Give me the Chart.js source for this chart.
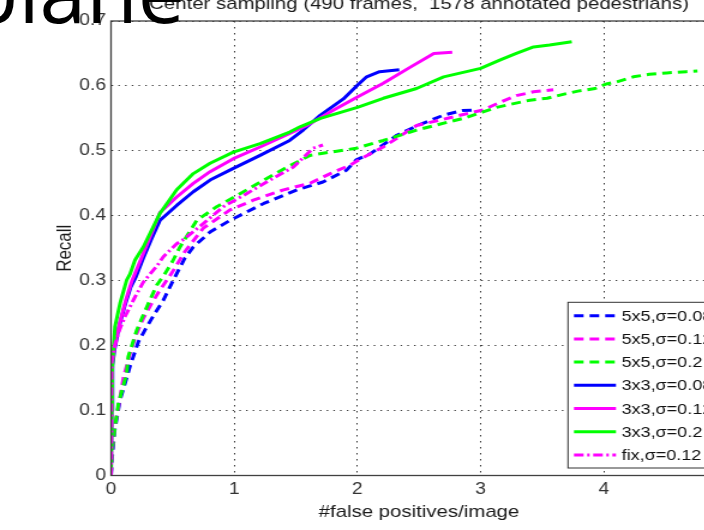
<!DOCTYPE html>
<html><head><meta charset="utf-8">
<script src="https://cdn.jsdelivr.net/npm/chart.js@4.4.1/dist/chart.umd.min.js"></script>
<style>
html,body{margin:0;padding:0;overflow:hidden;background:#fff;width:704px;height:530px}
#wrap{position:absolute;left:0;top:0;width:640px;height:530px;transform:scaleX(1.2);transform-origin:0 0}
#word{position:absolute;left:0;top:0}
</style>
</head><body>
<div id="wrap"><canvas id="c" width="640" height="530"></canvas></div>
<svg id="word" width="704" height="60"><text x="-33" y="23" font-family="Open Sans" font-size="84" fill="#000">plane</text></svg>
<script>
// ---- data ----
const titleText = 'Center sampling (490 frames,  1578 annotated pedestrians)';
const xAxisTitle = '#false positives/image';
const yAxisTitle = 'Recall';
const xTickLabels = ['0','1','2','3','4','5'];
const yTickLabels = ['0','0.1','0.2','0.3','0.4','0.5','0.6','0.7'];
const seriesLabels = ['5x5,\u03c3=0.08','5x5,\u03c3=0.12','5x5,\u03c3=0.2','3x3,\u03c3=0.08','3x3,\u03c3=0.12','3x3,\u03c3=0.2','fix,\u03c3=0.12'];

const fppi_5x5_008 = [0,0.01,0.03,0.073,0.114,0.154,0.222,0.29,0.357,0.425,0.506,0.6,0.668,0.804,0.966,1.24,1.51,1.72,1.91,1.99,2.1,2.32,2.5,2.7,2.85,2.97];
const recall_5x5_008 = [0,0.03,0.07,0.116,0.142,0.168,0.206,0.229,0.25,0.27,0.301,0.335,0.352,0.375,0.393,0.419,0.44,0.452,0.47,0.486,0.495,0.524,0.54,0.555,0.562,0.563];

const fppi_5x5_012 = [0,0.01,0.03,0.06,0.1,0.154,0.2,0.262,0.33,0.398,0.49,0.6,0.749,0.966,1.155,1.4,1.615,1.78,1.94,2.05,2.21,2.48,2.75,2.86,3.02,3.16,3.29,3.43,3.59];
const recall_5x5_012 = [0,0.04,0.075,0.106,0.15,0.188,0.215,0.242,0.265,0.286,0.311,0.345,0.381,0.409,0.424,0.44,0.45,0.465,0.478,0.49,0.506,0.539,0.551,0.556,0.563,0.575,0.585,0.591,0.594];

const fppi_5x5_02 = [0,0.005,0.032,0.06,0.127,0.14,0.209,0.303,0.371,0.438,0.5,0.56,0.696,0.858,1.047,1.24,1.43,1.615,1.78,1.99,2.21,2.48,2.75,2.86,3.02,3.13,3.25,3.4,3.54,3.67,3.79,3.93,4.02,4.1,4.24,4.37,4.51,4.67,4.76];
const recall_5x5_02 = [0,0.034,0.075,0.111,0.157,0.183,0.224,0.265,0.293,0.311,0.33,0.352,0.393,0.414,0.434,0.455,0.475,0.493,0.498,0.504,0.516,0.532,0.545,0.55,0.56,0.567,0.572,0.578,0.581,0.587,0.592,0.596,0.603,0.606,0.614,0.618,0.62,0.622,0.623];

const fppi_3x3_008 = [0,0.005,0.012,0.03,0.065,0.11,0.16,0.2,0.262,0.33,0.398,0.533,0.668,0.804,0.993,1.21,1.45,1.56,1.7,1.886,2.0,2.075,2.18,2.34];
const recall_3x3_008 = [0,0.1,0.17,0.195,0.229,0.26,0.29,0.305,0.335,0.365,0.393,0.416,0.437,0.455,0.473,0.493,0.516,0.532,0.555,0.58,0.601,0.614,0.622,0.625];

const fppi_3x3_012 = [0,0.005,0.01,0.03,0.07,0.12,0.17,0.262,0.398,0.533,0.668,0.804,0.993,1.21,1.45,1.6,1.8,2.0,2.21,2.43,2.62,2.77];
const recall_3x3_012 = [0,0.1,0.175,0.2,0.235,0.27,0.3,0.342,0.405,0.429,0.45,0.468,0.488,0.506,0.527,0.54,0.562,0.583,0.604,0.629,0.65,0.652];

const fppi_3x3_02 = [0,0.005,0.01,0.032,0.073,0.127,0.154,0.195,0.262,0.398,0.533,0.668,0.804,0.993,1.21,1.45,1.534,1.7,2.0,2.21,2.48,2.7,3.0,3.16,3.29,3.43,3.56,3.74];
const recall_3x3_02 = [0,0.1,0.165,0.229,0.265,0.301,0.31,0.332,0.352,0.404,0.44,0.465,0.481,0.498,0.511,0.529,0.537,0.55,0.567,0.581,0.596,0.614,0.627,0.64,0.65,0.66,0.663,0.668];

const fppi_fix_012 = [0,0.003,0.006,0.03,0.07,0.114,0.195,0.262,0.37,0.425,0.533,0.6,0.749,0.912,1.1,1.29,1.48,1.64,1.72];
const recall_fix_012 = [0,0.1,0.175,0.2,0.225,0.245,0.275,0.298,0.322,0.337,0.357,0.365,0.388,0.414,0.434,0.455,0.475,0.504,0.509];

// ---- styling ----
const FONT = "'Liberation Sans', Arial, Helvetica, sans-serif";
const BLUE = '#0000ff', MAG = '#ff00ff', GRN = '#00ff00';
const DASH = [8,5], DASHDOT = [8,3,2,3];
const seriesX = [fppi_5x5_008,fppi_5x5_012,fppi_5x5_02,fppi_3x3_008,fppi_3x3_012,fppi_3x3_02,fppi_fix_012];
const seriesY = [recall_5x5_008,recall_5x5_012,recall_5x5_02,recall_3x3_008,recall_3x3_012,recall_3x3_02,recall_fix_012];
const colors = [BLUE,MAG,GRN,BLUE,MAG,GRN,MAG];
const dashes = [DASH,DASH,DASH,[],[],[],DASHDOT];

const datasets = seriesLabels.map((lab,i)=>({
  label: lab,
  data: seriesX[i].map((x,k)=>({x:x, y:seriesY[i][k]})),
  borderColor: colors[i],
  backgroundColor: colors[i],
  borderWidth: 3,
  borderDash: dashes[i],
  borderJoinStyle: 'round',
  pointRadius: 0,
  tension: 0,
  showLine: true,
  fill: false,
  order: seriesLabels.length - i
}));

const framePlugin = {
  id: 'frameAndLegend',
  afterDatasetsDraw(chart){
    const {ctx, chartArea:a} = chart;
    ctx.save();
    ctx.strokeStyle = '#404040';
    ctx.lineWidth = 1.3;
    ctx.setLineDash([]);
    ctx.strokeRect(a.left, a.top, a.right-a.left, a.bottom-a.top);
    ctx.restore();
  },
  afterDraw(chart){
    const {ctx, chartArea:a} = chart;
    const bx = a.right - 132.5, by = a.bottom - 173.2, bw = 128.5, bh = 165.7;
    ctx.save();
    ctx.fillStyle = '#fff';
    ctx.fillRect(bx, by, bw, bh);
    ctx.strokeStyle = '#333';
    ctx.lineWidth = 1;
    ctx.setLineDash([]);
    ctx.strokeRect(bx, by, bw, bh);
    ctx.font = '15px ' + FONT;
    ctx.textBaseline = 'middle';
    ctx.textAlign = 'left';
    chart.data.datasets.forEach((ds,i)=>{
      const ry = by + 13.4 + i*23.2;
      ctx.strokeStyle = ds.borderColor;
      ctx.lineWidth = ds.borderWidth;
      ctx.setLineDash(ds.borderDash || []);
      ctx.beginPath();
      ctx.moveTo(bx+5, ry);
      ctx.lineTo(bx+40, ry);
      ctx.stroke();
      ctx.setLineDash([]);
      ctx.fillStyle = '#111';
      ctx.fillText(ds.label, bx+44.7, ry+1);
    });
    ctx.restore();
  }
};

const gridColor = (ctx)=> (ctx.tick && (ctx.index === 0)) ? 'rgba(0,0,0,0)' : '#3a3a3a';

new Chart(document.getElementById('c'), {
  type: 'scatter',
  data: { datasets },
  options: {
    responsive: false,
    devicePixelRatio: 1,
    animation: false,
    layout: { padding: { left: 0, right: 34.2, top: 0, bottom: 0 } },
    plugins: {
      legend: { display: false },
      tooltip: { enabled: false },
      title: {
        display: true, text: titleText, fullSize: false,
        color: '#1a1a1a', font: { family: FONT, size: 17, weight: 'normal', lineHeight: 1.2 },
        padding: { top: -6, bottom: 6.6 }
      }
    },
    scales: {
      x: {
        type: 'linear', min: 0, max: 5,
        afterFit(s){ s.height = 54.5; },
        ticks: { stepSize: 1, padding: 4, color: '#333', font: { family: FONT, size: 16 },
                 callback: (v,i)=> xTickLabels[i] },
        grid: { color: gridColor, lineWidth: 1, drawTicks: false },
        border: { display: false, dash: [1.5,4.5] },
        title: { display: true, text: xAxisTitle, color: '#1a1a1a',
                 font: { family: FONT, size: 17, lineHeight: 1.2 }, padding: { top: 0, bottom: 7.3 } }
      },
      y: {
        type: 'linear', min: 0, max: 0.7,
        afterFit(s){ s.width = 92.5; },
        ticks: { stepSize: 0.1, padding: 4.2, color: '#333', font: { family: FONT, size: 16 },
                 callback: (v,i)=> yTickLabels[i] },
        grid: { color: gridColor, lineWidth: 1, drawTicks: false },
        border: { display: false, dash: [1.3,4.3] },
        title: { display: true, text: yAxisTitle, color: '#1a1a1a',
                 font: { family: FONT, size: 17, lineHeight: 1.2 }, padding: { top: 44, bottom: 0 } }
      }
    }
  },
  plugins: [framePlugin]
});
</script>
</body></html>
